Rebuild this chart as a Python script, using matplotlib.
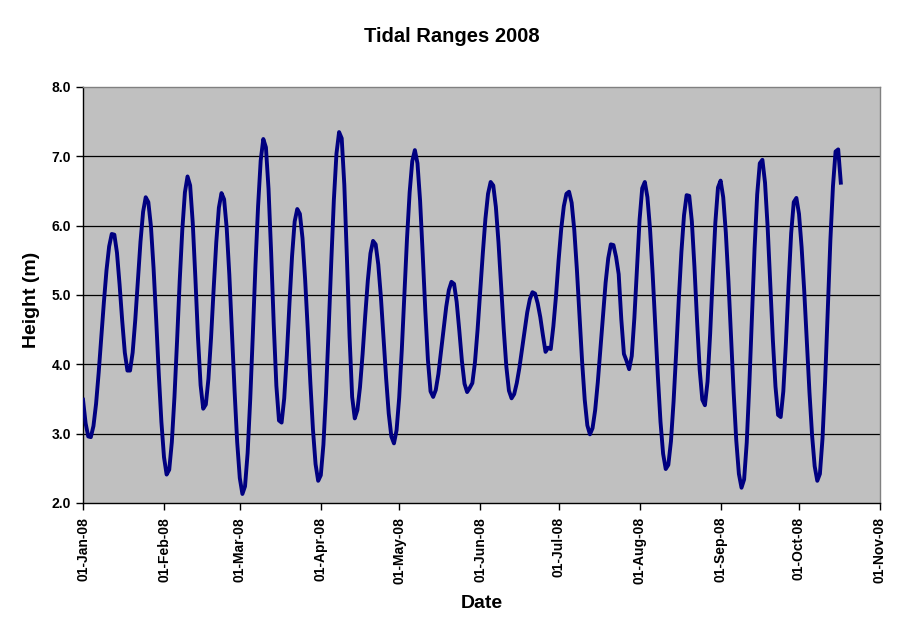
import numpy as np
import matplotlib
matplotlib.use('Agg')
import matplotlib.pyplot as plt
import matplotlib.dates as mdates

plt.rcParams['font.family'] = ['Liberation Sans', 'DejaVu Sans']
plt.rcParams['font.weight'] = 'bold'

# daily tidal range (m), one list per month
jan = [3.49, 3.15, 2.96, 2.95, 3.11, 3.43, 3.88, 4.39, 4.90, 5.36,
       5.70, 5.88, 5.87, 5.61, 5.15, 4.63, 4.17, 3.91, 3.91, 4.17,
       4.64, 5.21, 5.77, 6.20, 6.41, 6.34, 5.99, 5.39, 4.65, 3.86,
       3.17]
feb = [2.66, 2.41, 2.48, 2.88, 3.53, 4.34, 5.20, 5.94, 6.48, 6.71,
       6.58, 6.04, 5.25, 4.39, 3.70, 3.36, 3.42, 3.79, 4.38, 5.09,
       5.76, 6.26, 6.47, 6.38, 5.96, 5.29, 4.47, 3.62, 2.88]
mar = [2.36, 2.13, 2.24, 2.72, 3.50, 4.44, 5.43, 6.28, 6.94, 7.25,
       7.13, 6.53, 5.61, 4.57, 3.69, 3.19, 3.16, 3.51, 4.13, 4.87,
       5.56, 6.06, 6.24, 6.17, 5.82, 5.23, 4.51, 3.74, 3.06, 2.56,
       2.32]
apr = [2.40, 2.84, 3.58, 4.50, 5.47, 6.37, 7.04, 7.35, 7.26, 6.59,
       5.53, 4.40, 3.53, 3.22, 3.34, 3.67, 4.15, 4.70, 5.21, 5.60,
       5.78, 5.73, 5.44, 4.97, 4.38, 3.80, 3.29, 2.96, 2.86, 3.05]
may = [3.52, 4.21, 5.02, 5.82, 6.48, 6.93, 7.09, 6.90, 6.36, 5.59,
       4.77, 4.06, 3.61, 3.53, 3.63, 3.86, 4.18, 4.51, 4.83, 5.07,
       5.19, 5.16, 4.90, 4.49, 4.05, 3.72, 3.60, 3.66, 3.73, 4.03,
       4.50]
jun = [5.05, 5.60, 6.10, 6.46, 6.63, 6.58, 6.27, 5.76, 5.14, 4.51,
       3.97, 3.62, 3.51, 3.57, 3.73, 3.95, 4.22, 4.50, 4.75, 4.94,
       5.04, 5.02, 4.88, 4.68, 4.42, 4.18, 4.24, 4.22, 4.55, 4.98]
jul = [5.50, 5.95, 6.28, 6.46, 6.49, 6.33, 5.94, 5.37, 4.70, 4.04,
       3.49, 3.12, 2.99, 3.08, 3.34, 3.74, 4.22, 4.72, 5.18, 5.53,
       5.73, 5.72, 5.55, 5.30, 4.65, 4.15, 4.05, 3.93, 4.12, 4.67,
       5.39]
aug = [6.09, 6.54, 6.63, 6.41, 5.95, 5.30, 4.56, 3.82, 3.17, 2.71,
       2.49, 2.55, 2.89, 3.46, 4.17, 4.94, 5.62, 6.15, 6.44, 6.43,
       6.06, 5.40, 4.62, 3.92, 3.49, 3.41, 3.75, 4.44, 5.28, 6.05,
       6.55]
sep = [6.65, 6.41, 5.90, 5.20, 4.39, 3.59, 2.90, 2.42, 2.22, 2.34,
       2.87, 3.71, 4.70, 5.67, 6.45, 6.90, 6.95, 6.62, 5.98, 5.17,
       4.35, 3.68, 3.27, 3.24, 3.61, 4.31, 5.14, 5.89, 6.34, 6.40]
octo = [6.17, 5.69, 5.06, 4.32, 3.60, 2.98, 2.53, 2.32, 2.42, 2.93,
        3.76, 4.78, 5.78, 6.57, 7.07, 7.10, 6.62]

heights = jan + feb + mar + apr + may + jun + jul + aug + sep + octo
dates = np.datetime64('2008-01-01') + np.arange(len(heights))

title = 'Tidal Ranges 2008'
xlabel = 'Date'
ylabel = 'Height (m)'

fig = plt.figure(figsize=(9.04, 6.35), dpi=100)
ax = fig.add_axes([83 / 904, 132 / 635, 797 / 904, 416 / 635])
ax.set_facecolor('#c0c0c0')

ax.plot(dates, heights, '-', color='#000080', linewidth=2.8,
        solid_joinstyle='round', zorder=3)

ax.set_ylim(2.0, 8.0)
ax.set_yticks(np.arange(2.0, 8.01, 1.0))
ax.yaxis.set_major_formatter(matplotlib.ticker.FormatStrFormatter('%.1f'))
ax.set_xlim(np.datetime64('2008-01-01'), np.datetime64('2008-11-01'))
ax.xaxis.set_major_locator(mdates.MonthLocator())
ax.xaxis.set_major_formatter(mdates.DateFormatter('%d-%b-%y'))

ax.set_axisbelow(True)
ax.grid(axis='y', color='black', linewidth=0.9)
gl = ax.get_ygridlines()
gl[0].set_visible(False)
gl[-1].set_visible(False)

ax.spines['left'].set_color('black')
ax.spines['bottom'].set_color('black')
ax.spines['top'].set_color('#808080')
ax.spines['right'].set_color('#808080')
for s in ax.spines.values():
    s.set_linewidth(1.0)

ax.tick_params(axis='both', direction='out', length=5, width=1, labelsize=10)
ax.tick_params(axis='x', pad=5)
for label in ax.get_xticklabels():
    label.set_rotation(90)
    label.set_fontweight('bold')
for label in ax.get_yticklabels():
    label.set_fontweight('bold')

fig.text(0.5, 1 - 36 / 635, title, ha='center', va='center', fontsize=14.5, fontweight='bold')
fig.text(481.5 / 904, 1 - 604 / 635, xlabel, ha='center', va='center', fontsize=14, fontweight='bold')
fig.text(32 / 904, 1 - 300 / 635, ylabel, ha='center', va='center', rotation=90, fontsize=14, fontweight='bold')

fig.savefig('out.png', dpi=100)
